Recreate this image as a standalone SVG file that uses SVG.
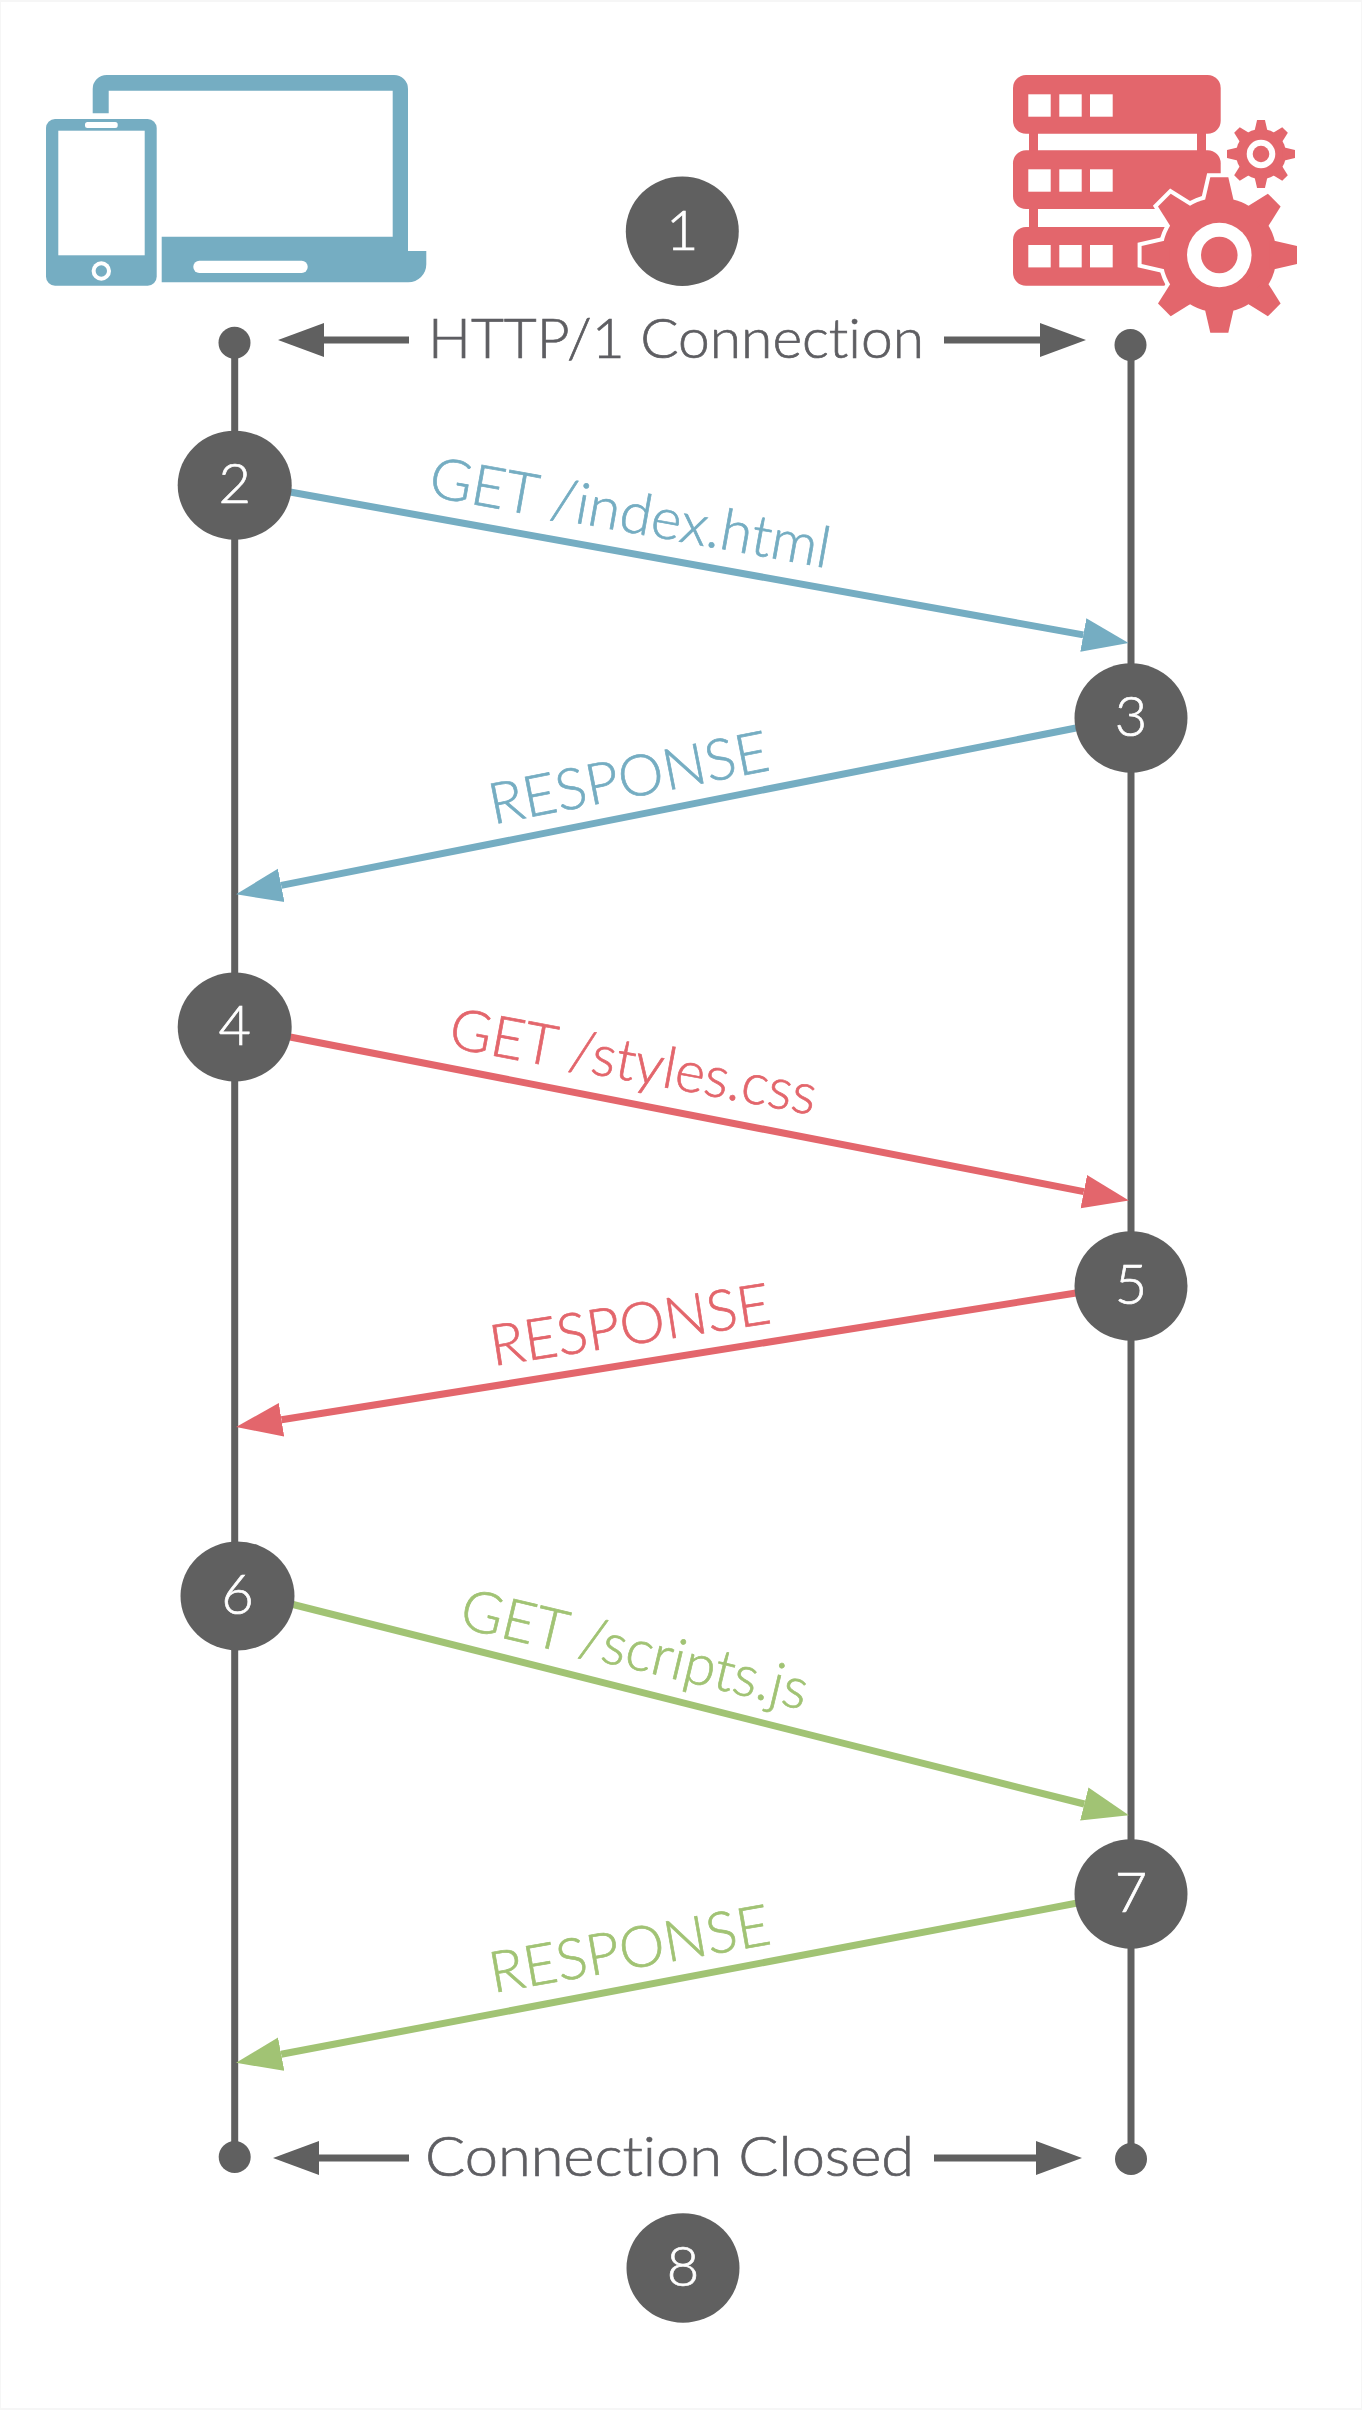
<svg xmlns="http://www.w3.org/2000/svg" xmlns:xlink="http://www.w3.org/1999/xlink" width="1362" height="2410" viewBox="0 0 1362 2410">
<style>
.life{stroke:#606060;stroke-width:7;fill:none}
.wire{stroke-width:7;fill:none}
.dark{stroke:#606060;stroke-width:7;fill:none;marker-end:url(#ah-dark)}
.blue{stroke:#75ADC2;marker-end:url(#ah-blue)}
.red{stroke:#E3666C;marker-end:url(#ah-red)}
.green{stroke:#A1C374;marker-end:url(#ah-green)}
text{font-family:"Lato","Liberation Sans",sans-serif;font-variant-ligatures:none;font-weight:300;stroke-width:.7px}
.num{font-size:56px;fill:#fff;stroke:#fff;text-anchor:middle}
.cap{font-size:56px;fill:#5E5E62;stroke:#5E5E62}
.lab{font-size:57px}
.lb{fill:#75ADC2;stroke:#75ADC2}
.lr{fill:#E3666C;stroke:#E3666C}
.lg{fill:#A1C374;stroke:#A1C374}
.disc{fill:#606060}
.cb{fill:#75ADC2}
.sv{fill:#E3666C}
.hole{fill:#fff}
</style>
<defs>
<marker id="ah-dark" markerUnits="userSpaceOnUse" markerWidth="48" markerHeight="36" refX="0" refY="18" orient="auto"><path d="M0 1L46 18L0 35Z" fill="#606060"/></marker>
<marker id="ah-blue" markerUnits="userSpaceOnUse" markerWidth="48" markerHeight="36" refX="0" refY="18" orient="auto"><path d="M0 1L46 18L0 35Z" fill="#75ADC2"/></marker>
<marker id="ah-red" markerUnits="userSpaceOnUse" markerWidth="48" markerHeight="36" refX="0" refY="18" orient="auto"><path d="M0 1L46 18L0 35Z" fill="#E3666C"/></marker>
<marker id="ah-green" markerUnits="userSpaceOnUse" markerWidth="48" markerHeight="36" refX="0" refY="18" orient="auto"><path d="M0 1L46 18L0 35Z" fill="#A1C374"/></marker>
<g id="gear">
<circle r="57.3"/>
<path id="tooth" d="M-14-50V-56L-9-77.7H9L14-56V-50Z"/>
<use xlink:href="#tooth" href="#tooth" transform="rotate(45)"/>
<use xlink:href="#tooth" href="#tooth" transform="rotate(90)"/>
<use xlink:href="#tooth" href="#tooth" transform="rotate(135)"/>
<use xlink:href="#tooth" href="#tooth" transform="rotate(180)"/>
<use xlink:href="#tooth" href="#tooth" transform="rotate(225)"/>
<use xlink:href="#tooth" href="#tooth" transform="rotate(270)"/>
<use xlink:href="#tooth" href="#tooth" transform="rotate(315)"/>
</g>
</defs>
<rect width="1362" height="2410" fill="#f6f6f6"/>
<rect x="1" y="2" width="1360" height="2406" fill="#fff"/>
<g id="client">
<path class="cb" d="M92.7 113.3V89A14 14 0 0 1 106.7 75H394A14 14 0 0 1 408 89V251H426.3V264.3A18 18 0 0 1 408.3 282.3H161.7V236.7H392.7V90.7H108.7V113.3Z"/>
<rect class="hole" x="193.3" y="260.7" width="114.4" height="12.3" rx="6"/>
<rect class="cb" x="46" y="119" width="110.7" height="166.7" rx="9"/>
<rect class="hole" x="58.3" y="130.7" width="86.4" height="124.6"/>
<rect class="hole" x="85" y="122" width="32.7" height="6" rx="2.5"/>
<circle class="hole" cx="101.3" cy="271" r="9.7"/>
<circle class="cb" cx="101.3" cy="271" r="5.7"/>
</g>
<g id="server">
<rect class="sv" x="1029" y="130" width="9" height="100"/>
<rect class="sv" x="1197" y="130" width="9" height="24"/>
<rect class="sv" x="1013" y="75" width="207.7" height="58.7" rx="13"/>
<rect class="sv" x="1013" y="150.3" width="207.7" height="58.7" rx="13"/>
<rect class="sv" x="1013" y="227" width="207.7" height="58.7" rx="13"/>
<g class="hole">
<rect x="1028.3" y="94.3" width="22.4" height="22.4"/><rect x="1059.3" y="94.3" width="22.4" height="22.4"/><rect x="1090" y="94.3" width="22.7" height="22.4"/>
<rect x="1028.3" y="169.3" width="22.4" height="22.4"/><rect x="1059.3" y="169.3" width="22.4" height="22.4"/><rect x="1090" y="169.3" width="22.7" height="22.4"/>
<rect x="1028.3" y="245" width="22.4" height="22.4"/><rect x="1059.3" y="245" width="22.4" height="22.4"/><rect x="1090" y="245" width="22.7" height="22.4"/>
</g>
<use xlink:href="#gear" href="#gear" transform="translate(1219.3 255)" fill="#fff" stroke="#fff" stroke-width="8" stroke-miterlimit="10"/>
<use xlink:href="#gear" href="#gear" transform="translate(1219.3 255)" fill="#E3666C"/>
<circle class="hole" cx="1219.3" cy="255" r="32.3"/>
<circle class="sv" cx="1219.3" cy="255" r="18.3"/>
<use xlink:href="#gear" href="#gear" transform="translate(1261 154) scale(.4376)" fill="#E3666C"/>
<circle class="hole" cx="1261" cy="154" r="14.3"/>
<circle class="sv" cx="1261" cy="154" r="8.3"/>
</g>
<g id="connectors">
<path class="life" d="M234.7 343V2157"/>
<path class="life" d="M1131 345V2159"/>
<path class="dark" d="M409 340H324"/>
<path class="dark" d="M944 340H1040"/>
<path class="dark" d="M409 2158H319"/>
<path class="dark" d="M934 2158H1036"/>
<path class="wire blue" d="M290 492L1083.3 634.9"/>
<path class="wire blue" d="M1076 728L281.2 885.4"/>
<path class="wire red" d="M290 1037L1083.8 1191.6"/>
<path class="wire red" d="M1076 1293L281.5 1419.8"/>
<path class="wire green" d="M293 1604.5L1084.3 1804"/>
<path class="wire green" d="M1076 1903.3L281.2 2054.2"/>
</g>
<g id="anchor-top-left"><circle class="disc" cx="234.5" cy="342.7" r="16"/></g>
<g id="anchor-top-right"><circle class="disc" cx="1130.5" cy="345" r="16"/></g>
<g id="anchor-bottom-left"><circle class="disc" cx="234.7" cy="2157" r="16"/></g>
<g id="anchor-bottom-right"><circle class="disc" cx="1131" cy="2159" r="16"/></g>
<g id="step-1"><ellipse class="disc" cx="682.3" cy="231.3" rx="56.5" ry="54.7"/><text class="num" x="682.3" y="250">1</text></g>
<g id="step-2"><ellipse class="disc" cx="234.7" cy="485.2" rx="57" ry="54.5"/><text class="num" x="234.7" y="503">2</text></g>
<g id="step-3"><ellipse class="disc" cx="1131" cy="718" rx="56.5" ry="54.7"/><text class="num" x="1131" y="736">3</text></g>
<g id="step-4"><ellipse class="disc" cx="234.7" cy="1027" rx="57" ry="54.5"/><text class="num" x="234.7" y="1045">4</text></g>
<g id="step-5"><ellipse class="disc" cx="1131" cy="1286" rx="56.5" ry="54.7"/><text class="num" x="1131" y="1304">5</text></g>
<g id="step-6"><ellipse class="disc" cx="237.5" cy="1596" rx="57" ry="54.5"/><text class="num" x="237.5" y="1614">6</text></g>
<g id="step-7"><ellipse class="disc" cx="1131" cy="1894" rx="56.5" ry="54.7"/><text class="num" x="1131" y="1912">7</text></g>
<g id="step-8"><ellipse class="disc" cx="683" cy="2268" rx="56.5" ry="54.7"/><text class="num" x="683" y="2286">8</text></g>
<g id="labels">
<text class="cap" x="428" y="357.7" textLength="496" lengthAdjust="spacingAndGlyphs">HTTP/1 Connection</text>
<text class="cap" x="425" y="2176" textLength="489" lengthAdjust="spacingAndGlyphs">Connection Closed</text>
<text class="lab lb" transform="translate(427 496) rotate(10.2)" textLength="406" lengthAdjust="spacingAndGlyphs">GET /index.html</text>
<text class="lab lb" transform="translate(493 824.5) rotate(-11.1)" textLength="284" lengthAdjust="spacingAndGlyphs">RESPONSE</text>
<text class="lab lr" transform="translate(447 1047) rotate(10.5)" textLength="372" lengthAdjust="spacingAndGlyphs">GET /styles.css</text>
<text class="lab lr" transform="translate(493 1366) rotate(-8.8)" textLength="283" lengthAdjust="spacingAndGlyphs">RESPONSE</text>
<text class="lab lg" transform="translate(457.6 1627) rotate(13.5)" textLength="355" lengthAdjust="spacingAndGlyphs">GET /scripts.js</text>
<text class="lab lg" transform="translate(493 1993) rotate(-10)" textLength="284" lengthAdjust="spacingAndGlyphs">RESPONSE</text>
</g>
</svg>
